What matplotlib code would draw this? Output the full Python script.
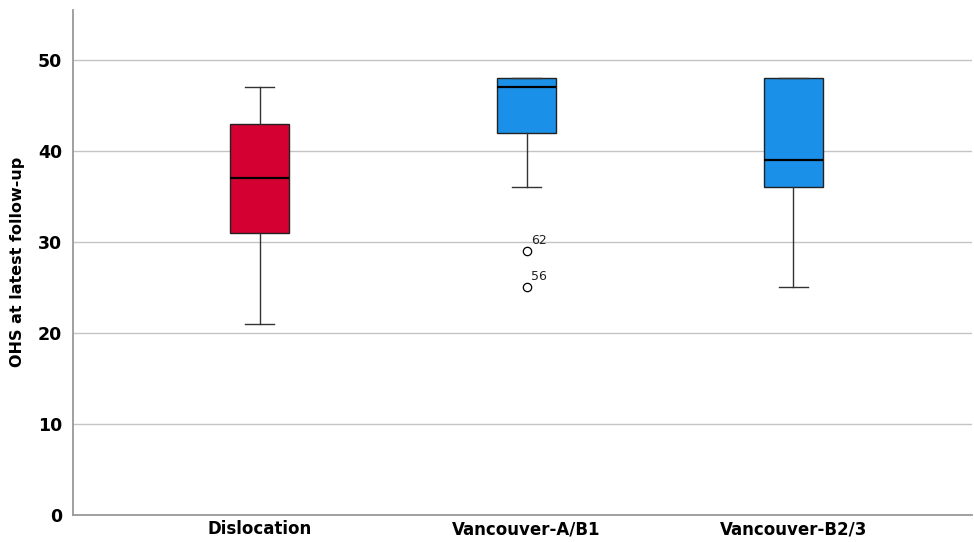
import matplotlib.pyplot as plt
import numpy as np

groups = ['Dislocation', 'Vancouver-A/B1', 'Vancouver-B2/3']
whislo = [21, 36, 25]
q1 = [31, 42, 36]
med = [37, 47, 39]
q3 = [43, 48, 48]
whishi = [47, 48, 48]
outliers = [[], [29, 25], []]
outlier_ids = [[], ['62', '56'], []]
colors = ['#D50032', '#1B90E8', '#1B90E8']

stats = []
for i, g in enumerate(groups):
    stats.append({'label': g, 'whislo': whislo[i], 'q1': q1[i], 'med': med[i],
                  'q3': q3[i], 'whishi': whishi[i], 'fliers': outliers[i]})

fig = plt.figure(figsize=(9.74, 5.42), dpi=100)
ax = fig.add_axes([0.075, 0.05, 0.923, 0.932])

pos = np.arange(1, len(groups) + 1)
bp = ax.bxp(stats, positions=pos, widths=0.22, patch_artist=True,
            boxprops=dict(edgecolor='#222222', linewidth=1),
            medianprops=dict(color='black', linewidth=1.6),
            whiskerprops=dict(color='#333333', linewidth=1),
            capprops=dict(color='#333333', linewidth=1),
            capwidths=0.11,
            flierprops=dict(marker='o', markerfacecolor='white',
                            markeredgecolor='black', markersize=6, markeredgewidth=0.9))
for patch, c in zip(bp['boxes'], colors):
    patch.set_facecolor(c)

for i, (vals, ids) in enumerate(zip(outliers, outlier_ids)):
    for v, t in zip(vals, ids):
        ax.annotate(t, (pos[i], v), xytext=(3, 5), textcoords='offset points',
                    fontsize=9, color='#222222')

ax.set_ylim(0, 55.5)
ax.set_xlim(0.3, 3.67)
ax.set_yticks([0, 10, 20, 30, 40, 50])
ax.yaxis.grid(True, color='#C4C4C4', linewidth=1)
ax.set_axisbelow(True)
for s in ['top', 'right']:
    ax.spines[s].set_visible(False)
for s in ['left', 'bottom']:
    ax.spines[s].set_color('#999999')
    ax.spines[s].set_linewidth(1.3)
ax.tick_params(axis='x', length=0, labelsize=12, pad=4)
ax.tick_params(axis='y', length=0, labelsize=12.5, pad=8)
for lab in ax.get_xticklabels() + ax.get_yticklabels():
    lab.set_fontweight('bold')
ax.set_ylabel('OHS at latest follow-up', fontsize=11.5, fontweight='bold', labelpad=9)

fig.savefig('out.png', dpi=100)
